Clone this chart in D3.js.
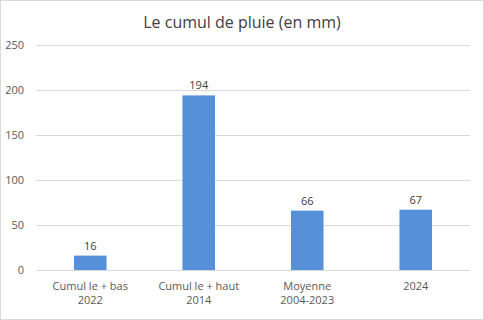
<!DOCTYPE html>
<html><head><meta charset="utf-8">
<script src="https://cdn.jsdelivr.net/npm/d3@7"></script>
<style>body{margin:0;background:#fff}svg{display:block}</style>
</head><body>
<script>
const categories = [["Cumul le + bas","2022"],["Cumul le + haut","2014"],["Moyenne","2004-2023"],["2024"]];
const values = [16, 194, 66, 67];
const yTicks = [0, 50, 100, 150, 200, 250];
const title = "Le cumul de pluie (en mm)";

const W = 484, H = 320;
const font = "'Open Sans', 'Liberation Sans', sans-serif";
const svg = d3.select("body").append("svg").attr("width", W).attr("height", H);
svg.append("rect").attr("x",0.5).attr("y",0.5).attr("width",W-1).attr("height",H-1)
  .attr("fill","#fff").attr("stroke","#d9d9d9");

const x = d3.scaleBand().domain(d3.range(values.length)).range([36, 470])
  .paddingInner(0.7).paddingOuter(0.35);
const y = d3.scaleLinear().domain([0, 250]).range([270, 45]);

svg.append("text").attr("x", W/2).attr("y", 28).attr("text-anchor","middle")
  .attr("font-family", font).attr("font-size", 16).attr("fill","#404040").text(title);

const g = svg.append("g");
g.selectAll("line.grid").data(yTicks).join("line")
  .attr("x1",36).attr("x2",470).attr("y1",d=>y(d)+0.5).attr("y2",d=>y(d)+0.5)
  .attr("stroke","#d9d9d9").attr("stroke-width",1);
g.selectAll("text.tick").data(yTicks).join("text")
  .attr("x",24).attr("y",d=>y(d)+4).attr("text-anchor","end")
  .attr("font-family",font).attr("font-size",11).attr("fill","#595959").text(d=>d);

g.selectAll("rect.bar").data(values).join("rect")
  .attr("x",(d,i)=>x(i)).attr("width",x.bandwidth())
  .attr("y",d=>y(d)).attr("height",d=>y(0)-y(d)).attr("fill","#5590d9");

g.selectAll("text.val").data(values).join("text")
  .attr("x",(d,i)=>x(i)+x.bandwidth()/2).attr("y",d=>y(d)-6).attr("text-anchor","middle")
  .attr("font-family",font).attr("font-size",11).attr("fill","#404040").text(d=>d);

const cl = g.selectAll("text.cat").data(categories).join("text")
  .attr("text-anchor","middle").attr("font-family",font).attr("font-size",11).attr("fill","#595959");
cl.each(function(d,i){
  const t = d3.select(this);
  d.forEach((line,j)=>{
    t.append("tspan").attr("x", x(i)+x.bandwidth()/2).attr("y", 290 + j*14).text(line);
  });
});
</script>
</body></html>
